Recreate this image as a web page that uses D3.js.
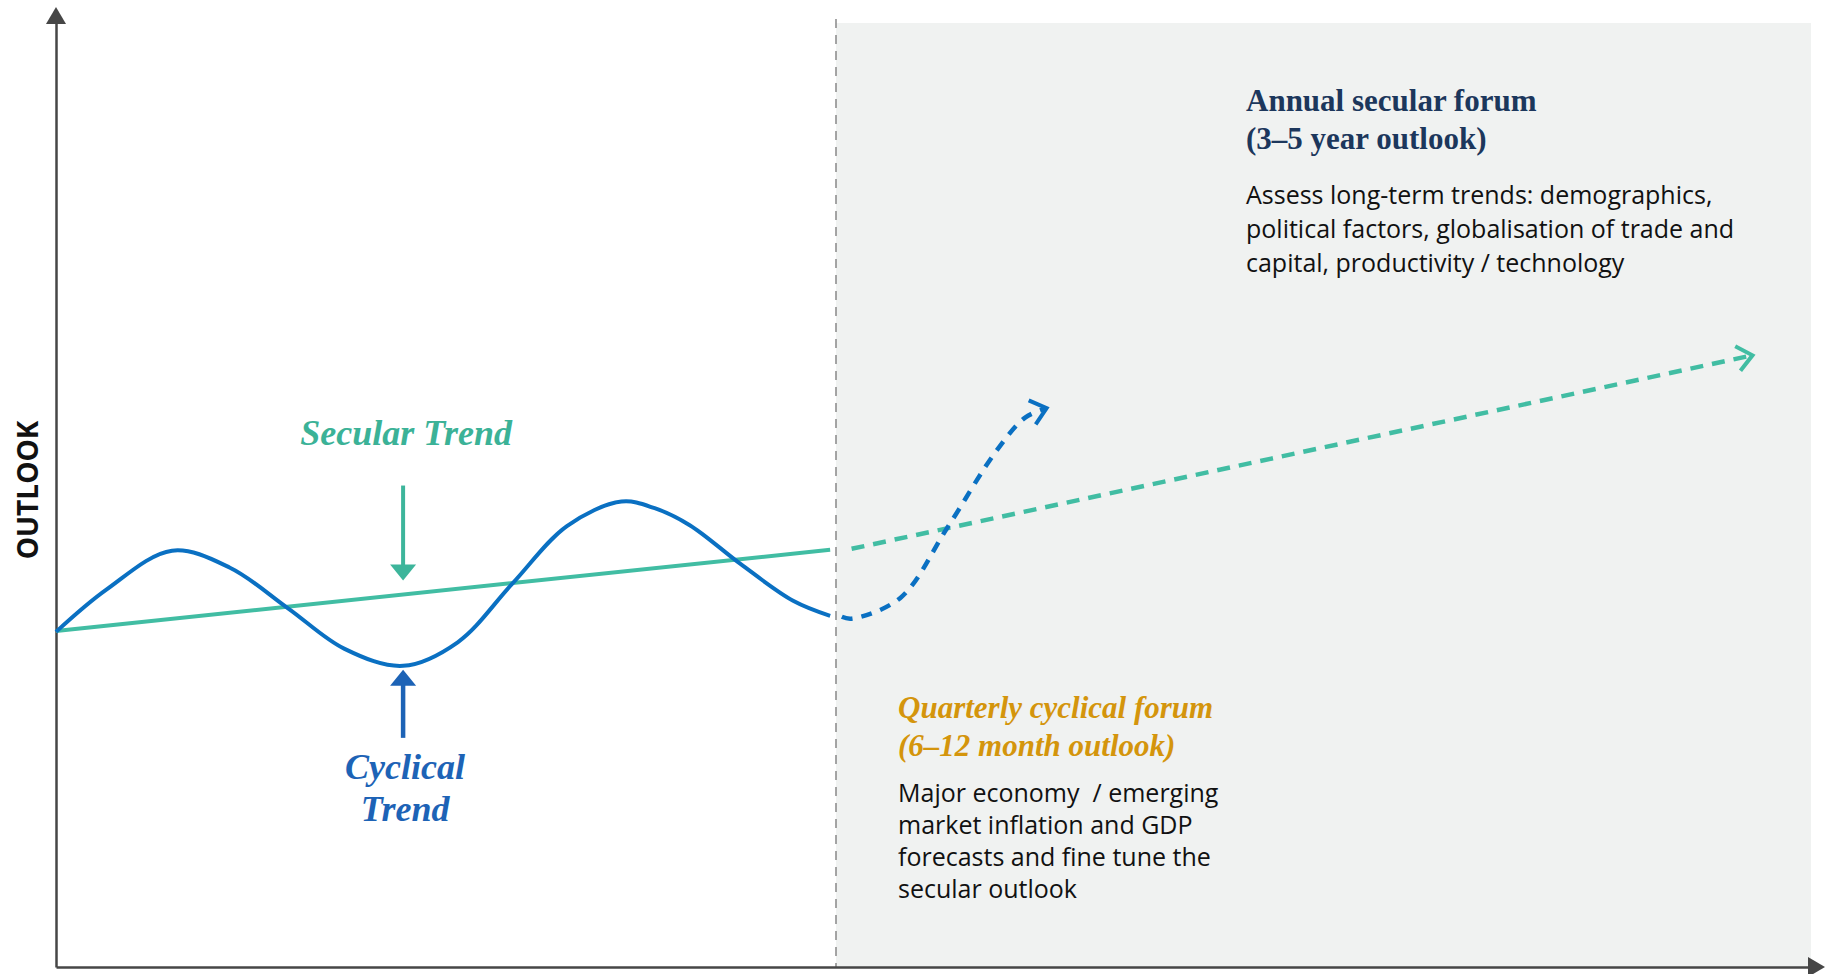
<!DOCTYPE html>
<html>
<head>
<meta charset="utf-8">
<script src="https://cdn.jsdelivr.net/npm/d3@7"></script>
<style>
  body { margin: 0; background: #fff; }
  svg { display: block; }
  text { white-space: pre; }
</style>
</head>
<body>
<svg id="outlook_svg"></svg>
<script>
// time runs left to right (0..90), outlook goes up (0..100)
let xDomain = [0, 90]
let yDomain = [0, 100]
let forumSplit = 40

let secularPast = [[0, 35.6], [39.7, 44.2]]
let secularFuture = [[40.8, 44.3], [87, 64.8]]
let cyclicalPast = [[0, 35.5], [2.6, 40.0], [5.95, 44.1],
    [8.92, 42.3], [11.9, 38.0], [14.8, 33.7], [17.8, 31.9],
    [20.6, 34.4], [23.4, 40.6], [26.2, 46.7], [29.0, 49.3],
    [30.7, 48.6], [32.5, 46.8], [35.1, 42.7], [37.8, 38.8], [39.7, 37.2]]
let cyclicalFuture = [[40.3, 37.1], [40.8, 36.9], [43.3, 39.1], [45.7, 46.5],
    [48.2, 54.6], [49.7, 58.2], [50.8, 59.2]]

let axisLabel = "OUTLOOK"
let secularLabel = ["Secular Trend"]
let cyclicalLabel = ["Cyclical", "Trend"]
let annualTitle = ["Annual secular forum", "(3–5 year outlook)"]
let annualText = ["Assess long-term trends: demographics,", "political factors, globalisation of trade and", "capital, productivity / technology"]
let quarterlyTitle = ["Quarterly cyclical forum", "(6–12 month outlook)"]
let quarterlyText = ["Major economy  / emerging", "market inflation and GDP", "forecasts and fine tune the", "secular outlook"]

let teal = "#41bda3", tealText = "#3bb297", blue = "#0a70c2", blueText = "#1d63b6",
    gold = "#d4950c", navy = "#1c375c", axisColor = "#464646"

let svg = d3.select("#outlook_svg").attr("width", 1828).attr("height", 974)

function translate(x, y){
    return "translate(" + x + ", " + y + ")"
}

let x = d3.scaleLinear().domain(xDomain).range([56, 1811]),
    y = d3.scaleLinear().domain(yDomain).range([967, 23])

// shaded forecast area and divider
svg.append("rect")
    .attr("x", x(forumSplit)).attr("y", y(100))
    .attr("width", x(90) - x(forumSplit)).attr("height", y(0) - y(100))
    .attr("fill", "#f0f2f1")
svg.append("line")
    .attr("x1", x(forumSplit)).attr("x2", x(forumSplit))
    .attr("y1", y(100) - 4).attr("y2", y(0))
    .attr("stroke", "#808080").attr("stroke-width", 1.4).attr("stroke-dasharray", "9,7")

// axes, no ticks
let xAxis = d3.axisBottom(x).ticks(0).tickSizeOuter(0),
    yAxis = d3.axisLeft(y).ticks(0).tickSizeOuter(0)
svg.append("g").attr("transform", translate(0, y(0))).call(xAxis)
svg.append("g").attr("transform", translate(x(0), 0)).call(yAxis)
svg.selectAll(".domain").attr("stroke", axisColor).attr("stroke-width", 2.5)
svg.append("line").attr("x1", x(0)).attr("x2", x(0)).attr("y1", y(100)).attr("y2", 20)
    .attr("stroke", axisColor).attr("stroke-width", 2.5)
svg.append("path").attr("d", "M" + x(0) + ",7L" + (x(0) + 10) + ",24L" + (x(0) - 10) + ",24Z").attr("fill", axisColor)
svg.append("path").attr("d", "M1825," + y(0) + "L1808," + (y(0) - 10) + "L1808," + (y(0) + 10) + "Z").attr("fill", axisColor)

svg.append("text")
    .attr("transform", translate(38, 490) + " rotate(-90)")
    .attr("text-anchor", "middle")
    .style("font-family", "'Open Sans', sans-serif").style("font-weight", 700).style("font-size", "28px")
    .attr("fill", "#111")
    .text(axisLabel)

// open chevron heads for the dashed projections
let defs = svg.append("defs")
function chevron(id, color){
    defs.append("marker").attr("id", id)
        .attr("markerUnits", "userSpaceOnUse")
        .attr("viewBox", "-22 -18 28 36").attr("markerWidth", 28).attr("markerHeight", 36)
        .attr("refX", 0).attr("refY", 0).attr("orient", "auto")
        .style("overflow", "visible")
        .append("path").attr("d", "M-15,-12.5L0,0L-15,12.5")
        .attr("fill", "none").attr("stroke", color).attr("stroke-width", 4)
}
chevron("chev_teal", teal)
chevron("chev_blue", blue)

let line = d3.line().x(d => x(d[0])).y(d => y(d[1]))
let wave = d3.line().x(d => x(d[0])).y(d => y(d[1])).curve(d3.curveCatmullRom.alpha(0.5))

svg.append("path").attr("d", line(secularPast))
    .attr("fill", "none").attr("stroke", teal).attr("stroke-width", 4)
svg.append("path").attr("d", line(secularFuture))
    .attr("fill", "none").attr("stroke", teal).attr("stroke-width", 4.5)
    .attr("stroke-dasharray", "13,9").attr("marker-end", "url(#chev_teal)")
svg.append("path").attr("d", wave(cyclicalPast))
    .attr("fill", "none").attr("stroke", blue).attr("stroke-width", 4)
svg.append("path").attr("d", wave(cyclicalFuture))
    .attr("fill", "none").attr("stroke", blue).attr("stroke-width", 4.5)
    .attr("stroke-dasharray", "11,9").attr("marker-end", "url(#chev_blue)")

// pointer arrows at the trough
let trough = cyclicalPast.reduce((a, b) => b[1] < a[1] ? b : a)
let ax = x(trough[0])
let secularAt = d3.scaleLinear().domain([secularPast[0][0], secularPast[1][0]]).range([secularPast[0][1], secularPast[1][1]])
let sTip = y(secularAt(trough[0])) - 14
svg.append("line").attr("x1", ax).attr("x2", ax).attr("y1", sTip - 95).attr("y2", sTip - 14)
    .attr("stroke", "#3db59b").attr("stroke-width", 4)
svg.append("path").attr("d", "M" + ax + "," + sTip + "L" + (ax - 13) + "," + (sTip - 16) + "L" + (ax + 13) + "," + (sTip - 16) + "Z")
    .attr("fill", "#3db59b")
let cTip = y(trough[1]) + 4
svg.append("line").attr("x1", ax).attr("x2", ax).attr("y1", cTip + 14).attr("y2", cTip + 68)
    .attr("stroke", blueText).attr("stroke-width", 4.5)
svg.append("path").attr("d", "M" + ax + "," + cTip + "L" + (ax - 13) + "," + (cTip + 16) + "L" + (ax + 13) + "," + (cTip + 16) + "Z")
    .attr("fill", blueText)

function block(lines, px, py, lineHeight, anchor, font, weight, style, size, color){
    svg.append("g").selectAll("text").data(lines).enter().append("text")
        .attr("x", px).attr("y", (d, i) => py + i * lineHeight)
        .attr("text-anchor", anchor)
        .style("font-family", font).style("font-weight", weight).style("font-style", style)
        .style("font-size", size + "px").attr("fill", color)
        .text(d => d)
}
let serif = "'Liberation Serif', serif", sans = "'Open Sans', sans-serif"

block(secularLabel, ax + 3, 445, 0, "middle", serif, 700, "italic", 36, tealText)
block(cyclicalLabel, ax + 2, 779, 42, "middle", serif, 700, "italic", 36, blueText)
block(annualTitle, 1246, 111, 38, "start", serif, 700, "normal", 31, navy)
block(annualText, 1246, 204, 34, "start", sans, 400, "normal", 25, "#111")
block(quarterlyTitle, 898, 718, 38, "start", serif, 700, "italic", 31, gold)
block(quarterlyText, 898, 802, 32, "start", sans, 400, "normal", 25, "#111")
</script>
</body>
</html>
